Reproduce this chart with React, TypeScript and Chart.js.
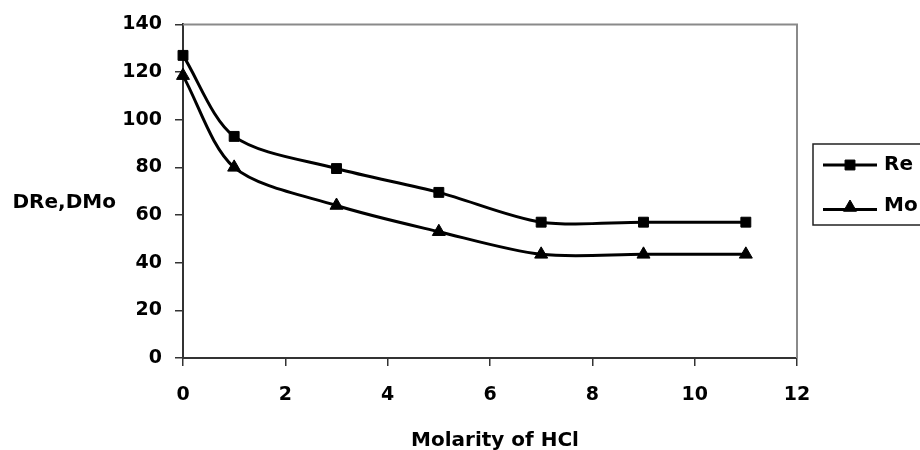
import React, { useEffect, useRef } from "react";
import { Chart, registerables } from "chart.js";

Chart.register(...registerables);

const molarity = [0, 1, 3, 5, 7, 9, 11];
const reValues = [127, 93, 79.5, 69.5, 57, 57, 57];
const moValues = [118.5, 80, 64, 53, 43.5, 43.5, 43.5];
const seriesNames = ["Re", "Mo"];
const xTitle = "Molarity of HCl";
const yTitle = "DRe,DMo";
const xMin = 0;
const xMax = 12;
const xStep = 2;
const yMin = 0;
const yMax = 140;
const yStep = 20;

const FONT = "'DejaVu Sans', sans-serif";

function drawMarker(ctx: CanvasRenderingContext2D, style: string, x: number, y: number, r: number) {
  ctx.beginPath();
  if (style === "rect") {
    const s = r * Math.SQRT1_2;
    ctx.rect(x - s, y - s, 2 * s, 2 * s);
  } else {
    ctx.moveTo(x, y - r);
    ctx.lineTo(x + r * 0.866, y + r * 0.5);
    ctx.lineTo(x - r * 0.866, y + r * 0.5);
    ctx.closePath();
  }
  ctx.fill();
  ctx.stroke();
}

const extrasPlugin = {
  id: "extras",
  beforeDatasetsDraw(chart: any) {
    const { ctx, chartArea: a } = chart;
    ctx.save();
    ctx.strokeStyle = "#8a8a8a";
    ctx.lineWidth = 2;
    ctx.beginPath();
    ctx.moveTo(a.left, a.top);
    ctx.lineTo(a.right, a.top);
    ctx.lineTo(a.right, a.bottom);
    ctx.stroke();
    ctx.restore();
  },
  afterDraw(chart: any) {
    const { ctx } = chart;
    ctx.save();
    ctx.fillStyle = "#000";
    ctx.font = `bold 20px ${FONT}`;
    ctx.textBaseline = "alphabetic";
    ctx.textAlign = "left";
    ctx.fillText(yTitle, 12.5, 207.5);
    ctx.textAlign = "center";
    ctx.fillText(xTitle, 495, 446);

    // legend box
    ctx.strokeStyle = "#222";
    ctx.lineWidth = 1.5;
    ctx.strokeRect(813, 144, 120, 81);
    const rows = [165, 209.5];
    const textRows = [165, 205.5];
    chart.data.datasets.forEach((ds: any, i: number) => {
      const y = rows[i];
      ctx.strokeStyle = "#000";
      ctx.lineWidth = 3;
      ctx.beginPath();
      ctx.moveTo(823, y);
      ctx.lineTo(877, y);
      ctx.stroke();
      ctx.fillStyle = "#000";
      ctx.lineWidth = 1;
      drawMarker(ctx, ds.pointStyle, 850, ds.pointStyle === "rect" ? y : y - 2, ds.pointStyle === "rect" ? 7 : 7.5);
      ctx.font = `bold 20px ${FONT}`;
      ctx.textAlign = "left";
      ctx.textBaseline = "middle";
      ctx.fillText(ds.label, 884, textRows[i]);
    });
    ctx.restore();
  },
};

export default function App() {
  const canvasRef = useRef<HTMLCanvasElement | null>(null);

  useEffect(() => {
    document.body.style.margin = "0";
    const canvas = canvasRef.current;
    if (!canvas) return;
    const axisColor = "#333";
    const tickFont = { family: FONT, size: 19, weight: "bold" as const };
    const chart = new Chart(canvas, {
      type: "line",
      data: {
        datasets: [
          {
            label: seriesNames[0],
            data: molarity.map((x, i) => ({ x, y: reValues[i] })),
            borderColor: "#000",
            backgroundColor: "#000",
            pointBackgroundColor: "#000",
            pointBorderColor: "#000",
            borderWidth: 3,
            pointStyle: "rect",
            pointRadius: 7,
            pointBorderWidth: 1,
            tension: 0.3,
            clip: false as any,
          },
          {
            label: seriesNames[1],
            data: molarity.map((x, i) => ({ x, y: moValues[i] })),
            borderColor: "#000",
            backgroundColor: "#000",
            pointBackgroundColor: "#000",
            pointBorderColor: "#000",
            borderWidth: 3,
            pointStyle: "triangle",
            pointRadius: 7.5,
            pointBorderWidth: 1,
            tension: 0.3,
            clip: false as any,
          },
        ],
      },
      options: {
        responsive: false,
        animation: false,
        layout: { padding: { top: 24, right: 123, left: 0, bottom: 0 } },
        plugins: {
          legend: { display: false },
          tooltip: { enabled: false },
        },
        scales: {
          x: {
            type: "linear",
            min: xMin,
            max: xMax,
            ticks: { stepSize: xStep, padding: 18, font: tickFont, color: "#000" },
            grid: { display: true, drawOnChartArea: false, drawTicks: true, tickLength: 8, color: axisColor, lineWidth: 1.5 },
            border: { display: true, color: axisColor, width: 2 },
            afterFit: (s: any) => {
              s.height = 92;
            },
          },
          y: {
            type: "linear",
            min: yMin,
            max: yMax,
            ticks: { stepSize: yStep, padding: 13, font: tickFont, color: "#000" },
            grid: { display: true, drawOnChartArea: false, drawTicks: true, tickLength: 8, color: axisColor, lineWidth: 1.5 },
            border: { display: true, color: axisColor, width: 2 },
            afterFit: (s: any) => {
              s.width = 183;
            },
          },
        },
      },
      plugins: [extrasPlugin],
    });
    return () => chart.destroy();
  }, []);

  return (
    <div style={{ width: 920, height: 450, background: "#fff" }}>
      <canvas ref={canvasRef} width={920} height={450} style={{ display: "block" }} />
    </div>
  );
}
